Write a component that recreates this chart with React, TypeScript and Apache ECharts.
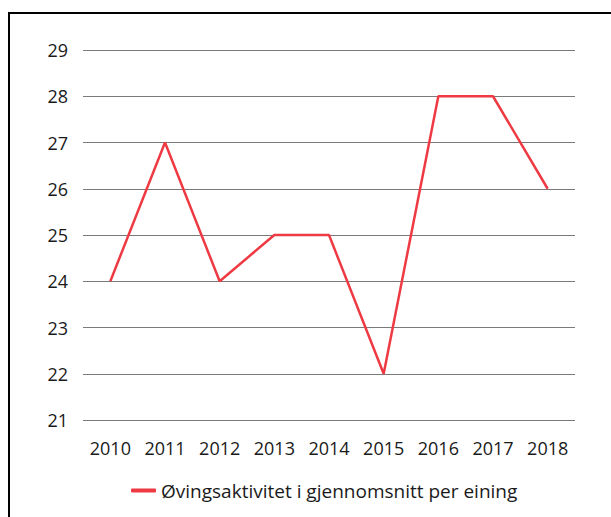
import React, { useEffect, useRef } from "react";
import * as echarts from "echarts";

const years = ["2010", "2011", "2012", "2013", "2014", "2015", "2016", "2017", "2018"];
const values = [24, 27, 24, 25, 25, 22, 28, 28, 26];
const seriesName = "Øvingsaktivitet i gjennomsnitt per eining";

export default function App() {
  const ref = useRef<HTMLDivElement>(null);
  useEffect(() => {
    if (!ref.current) return;
    const chart = echarts.init(ref.current, null, { renderer: "svg" });
    chart.setOption({
      animation: false,
      backgroundColor: "#ffffff",
      textStyle: { fontFamily: "Open Sans" },
      graphic: [
        {
          type: "rect",
          shape: { x: 9, y: 13, width: 700, height: 600 },
          style: { fill: "none", stroke: "#000", lineWidth: 2 },
          silent: true,
        },
      ],
      grid: { left: 83, right: 36, top: 50, bottom: 97, containLabel: false },
      xAxis: {
        type: "category",
        data: years,
        boundaryGap: true,
        axisLine: { show: false },
        axisTick: { show: false },
        axisLabel: { color: "#1a1a1a", fontSize: 18, margin: 19 },
      },
      yAxis: {
        type: "value",
        min: 21,
        max: 29,
        interval: 1,
        axisLine: { show: false },
        axisTick: { show: false },
        axisLabel: { color: "#1a1a1a", fontSize: 18, margin: 15 },
        splitLine: { lineStyle: { color: "#7a7a7a", width: 1 } },
      },
      legend: {
        show: true,
        left: 126,
        top: 476,
        icon: "roundRect",
        itemWidth: 25,
        itemHeight: 4,
        itemGap: 8,
        textStyle: { color: "#1a1a1a", fontSize: 19 },
        data: [seriesName],
      },
      series: [
        {
          name: seriesName,
          type: "line",
          data: values,
          symbol: "none",
          lineStyle: { color: "#ee3a43", width: 2.5 },
          itemStyle: { color: "#ee3a43" },
        },
      ],
    });
    return () => chart.dispose();
  }, []);
  return (
    <div
      ref={ref}
      style={{ position: "absolute", left: 0, top: 0, width: 611, height: 517 }}
    />
  );
}
